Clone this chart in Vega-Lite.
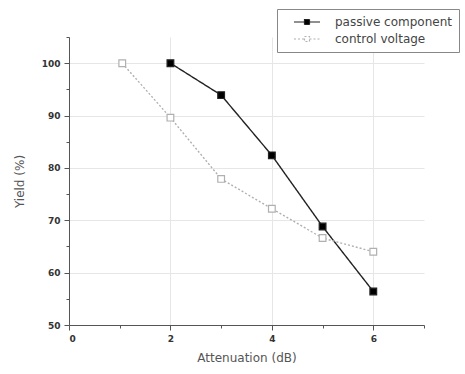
{
  "$schema": "https://vega.github.io/schema/vega-lite/v6.json",
  "width": 355,
  "height": 288,
  "autosize": {"type": "none"},
  "padding": {"left": 69, "top": 37, "right": 41, "bottom": 49},
  "background": "white",
  "config": {
    "font": "DejaVu Sans",
    "view": {"stroke": null},
    "axis": {
      "domainColor": "#555",
      "tickColor": "#555",
      "gridColor": "#e6e6e6",
      "labelFont": "DejaVu Sans",
      "labelFontSize": 9,
      "labelFontWeight": "bold",
      "labelColor": "#333",
      "labelPadding": 4,
      "titleFont": "DejaVu Sans",
      "titleFontSize": 12,
      "titleFontWeight": "normal",
      "titleColor": "#555",
      "tickSize": 5
    }
  },
  "data": {
    "values": [
      {"series": "passive component", "att": 2, "yield": 100},
      {"series": "passive component", "att": 3, "yield": 93.9},
      {"series": "passive component", "att": 4, "yield": 82.4},
      {"series": "passive component", "att": 5, "yield": 68.8},
      {"series": "passive component", "att": 6, "yield": 56.4},
      {"series": "control voltage", "att": 1.05, "yield": 100},
      {"series": "control voltage", "att": 2, "yield": 89.6},
      {"series": "control voltage", "att": 3, "yield": 77.9},
      {"series": "control voltage", "att": 4, "yield": 72.2},
      {"series": "control voltage", "att": 5, "yield": 66.6},
      {"series": "control voltage", "att": 6, "yield": 64}
    ]
  },
  "resolve": {"axis": {"x": "independent", "y": "independent"}},
  "layer": [
    {
      "mark": {"type": "line", "strokeWidth": 1.4},
      "encoding": {
        "x": {"field": "att", "type": "quantitative", "scale": {"domain": [0, 7], "nice": false},
          "axis": {"title": "Attenuation (dB)", "values": [0, 2, 4, 6], "format": "d", "grid": true, "titlePadding": 9}},
        "y": {"field": "yield", "type": "quantitative", "scale": {"domain": [50, 105], "nice": false, "zero": false},
          "axis": {"title": "Yield (%)", "values": [50, 60, 70, 80, 90, 100], "grid": true, "titlePadding": 15}},
        "color": {"field": "series", "type": "nominal",
          "scale": {"domain": ["passive component", "control voltage"], "range": ["#222222", "#b0b0b0"]},
          "legend": {
            "orient": "none", "legendX": 208, "legendY": -28, "title": null,
            "strokeColor": "#888", "padding": 7, "fillColor": "white",
            "symbolType": "M-2.6,0H-0.5M0.5,0H2.6M-0.5,-0.5H0.5V0.5H-0.5Z",
            "symbolSize": 100, "symbolStrokeWidth": 1.2, "symbolOffset": 17,
            "labelFont": "DejaVu Sans", "labelFontSize": 12, "labelColor": "#444", "labelOffset": 22,
            "labelLimit": 200,
            "rowPadding": 5,
            "encode": {"symbols": {"update": {
              "fill": {"signal": "datum.value === 'passive component' ? '#000' : '#fff'"},
              "strokeDash": {"signal": "datum.value === 'control voltage' ? [2,2] : [1,0]"}
            }}}
          }},
        "strokeDash": {"field": "series", "type": "nominal",
          "scale": {"domain": ["passive component", "control voltage"], "range": [[1, 0], [2, 2]]}, "legend": null}
      }
    },
    {
      "mark": {"type": "point", "shape": "square", "size": 45, "filled": false, "strokeWidth": 1.2, "opacity": 1},
      "encoding": {
        "x": {"field": "att", "type": "quantitative", "axis": null},
        "y": {"field": "yield", "type": "quantitative", "axis": null},
        "color": {"field": "series", "type": "nominal", "legend": null},
        "fill": {"field": "series", "type": "nominal",
          "scale": {"domain": ["passive component", "control voltage"], "range": ["#000000", "#ffffff"]}, "legend": null}
      }
    },
    {
      "mark": {"type": "point", "opacity": 0},
      "encoding": {
        "x": {"field": "att", "type": "quantitative",
          "axis": {"orient": "bottom", "values": [1, 3, 5, 7], "labels": false, "title": null, "grid": false, "tickSize": 3, "domain": false}},
        "y": {"field": "yield", "type": "quantitative",
          "axis": {"orient": "left", "values": [55, 65, 75, 85, 95, 105], "labels": false, "title": null, "grid": false, "tickSize": 3, "domain": false}}
      }
    }
  ]
}
